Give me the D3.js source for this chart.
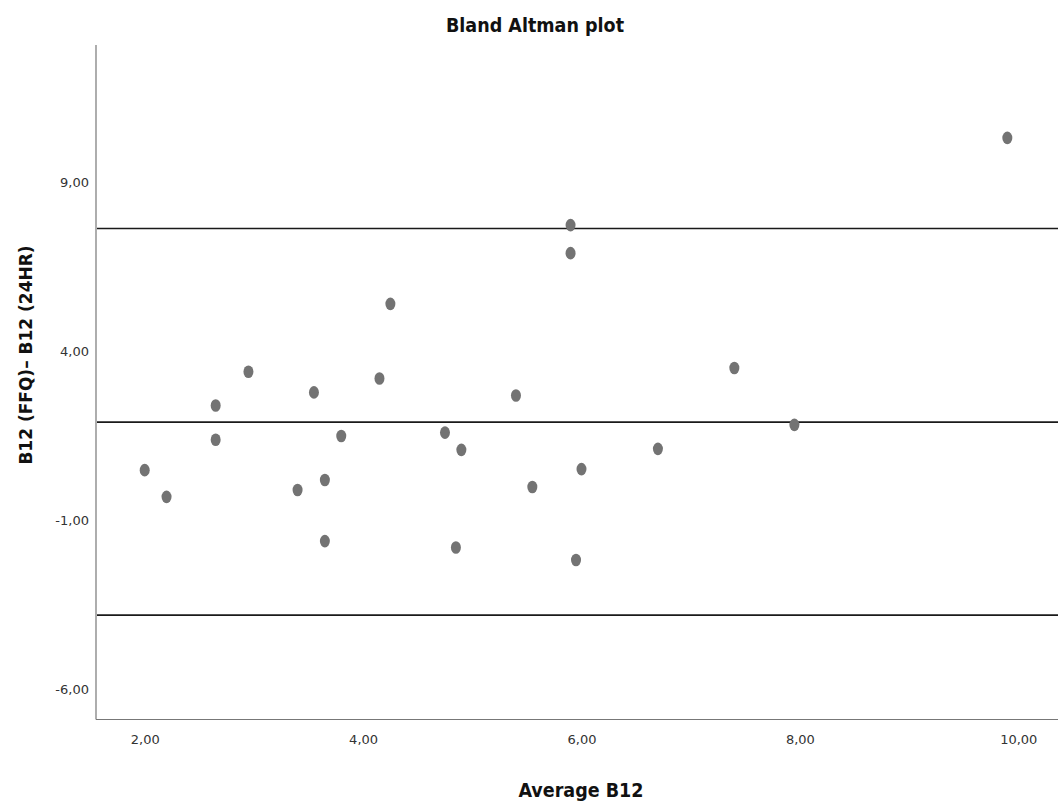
<!DOCTYPE html>
<html>
<head>
<meta charset="utf-8">
<title>Bland Altman plot</title>
<style>
    body { margin: 0; background: white; }
    .tick text { font: 13px "DejaVu Sans", sans-serif; fill: #333; }
    .title, .xlabel { font-family: "Liberation Sans Narrow", "DejaVu Sans Condensed", sans-serif; font-weight: bold; font-stretch: condensed; fill: #111; }
    .ylabel { font: bold 17px "DejaVu Sans", sans-serif; fill: #111; }
</style>
<script src="https://cdn.jsdelivr.net/npm/d3@7"></script>
</head>
<body>
<div id="chart"></div>
<script>
    // average of the two methods, and difference FFQ - 24HR
    var avgB12  = [2.00, 2.20, 2.65, 2.65, 2.95, 3.40, 3.55, 3.65, 3.65, 3.80, 4.15, 4.25, 4.75,
                   4.85, 4.90, 5.40, 5.55, 5.90, 5.90, 5.95, 6.00, 6.70, 7.40, 7.95, 9.90];
    var diffB12 = [0.49, -0.30, 2.40, 1.39, 3.40, -0.10, 2.79, 0.20, -1.61, 1.50, 3.20, 5.41, 1.60,
                   -1.80, 1.09, 2.70, -0.01, 7.74, 6.91, -2.17, 0.52, 1.12, 3.51, 1.83, 10.32];

    // upper limit, mean difference, lower limit
    var refLines = [7.64, 1.91, -3.80];

    var xTicks = [2, 4, 6, 8, 10];
    var yTicks = [-6, -1, 4, 9];

    var width = 1058, height = 805;
    var plotLeft = 96, plotTop = 45, plotRight = 1058, plotBottom = 719.5;

    var svg = d3.select('#chart')
            .append('svg')
            .attr('width', width)
            .attr('height', height);

    var x = d3.scaleLinear().domain([1.554, 10.364]).range([plotLeft, plotRight]);
    var y = d3.scaleLinear().domain([-6.888, 13.068]).range([plotBottom, plotTop]);

    // SPSS style: decimal comma, plain hyphen for negatives
    var fmt = function(d) { return d.toFixed(2).replace('.', ','); };

    svg.append('g')
            .attr('transform', 'translate(0,' + plotBottom + ')')
            .call(d3.axisBottom(x).tickValues(xTicks).tickFormat(fmt).tickSize(0).tickPadding(15));

    svg.append('g')
            .attr('transform', 'translate(' + plotLeft + ',0)')
            .call(d3.axisLeft(y).tickValues(yTicks).tickFormat(fmt).tickSize(0).tickPadding(7));

    svg.selectAll('.domain').remove();

    // axis lines
    svg.append('line')
            .attr('x1', plotLeft).attr('x2', plotLeft)
            .attr('y1', plotTop).attr('y2', plotBottom)
            .attr('stroke', '#777').attr('stroke-width', 1.2);
    svg.append('line')
            .attr('x1', plotLeft).attr('x2', plotRight)
            .attr('y1', plotBottom).attr('y2', plotBottom)
            .attr('stroke', '#777').attr('stroke-width', 1.2);

    // reference lines
    svg.selectAll('line.ref')
            .data(refLines)
        .enter().append('line')
            .attr('class', 'ref')
            .attr('x1', plotLeft + 1)
            .attr('x2', plotRight)
            .attr('y1', function(d) { return y(d); })
            .attr('y2', function(d) { return y(d); })
            .attr('stroke', '#1a1a1a')
            .attr('stroke-width', 1.6);

    // points
    svg.selectAll('ellipse.pt')
            .data(avgB12)
        .enter().append('ellipse')
            .attr('class', 'pt')
            .attr('cx', function(d) { return x(d); })
            .attr('cy', function(d, i) { return y(diffB12[i]); })
            .attr('rx', 5)
            .attr('ry', 6.3)
            .attr('fill', '#737373');

    svg.append('text')
            .attr('class', 'title')
            .attr('x', 535)
            .attr('y', 32)
            .attr('text-anchor', 'middle')
            .style('font-size', '19.5px')
            .text('Bland Altman plot');

    svg.append('text')
            .attr('class', 'xlabel')
            .attr('x', 581)
            .attr('y', 797)
            .attr('text-anchor', 'middle')
            .style('font-size', '19.5px')
            .text('Average B12');

    svg.append('text')
            .attr('class', 'ylabel')
            .attr('transform', 'translate(32,355) rotate(-90)')
            .attr('text-anchor', 'middle')
            .text('B12 (FFQ)\u2013 B12 (24HR)');
</script>
</body>
</html>
